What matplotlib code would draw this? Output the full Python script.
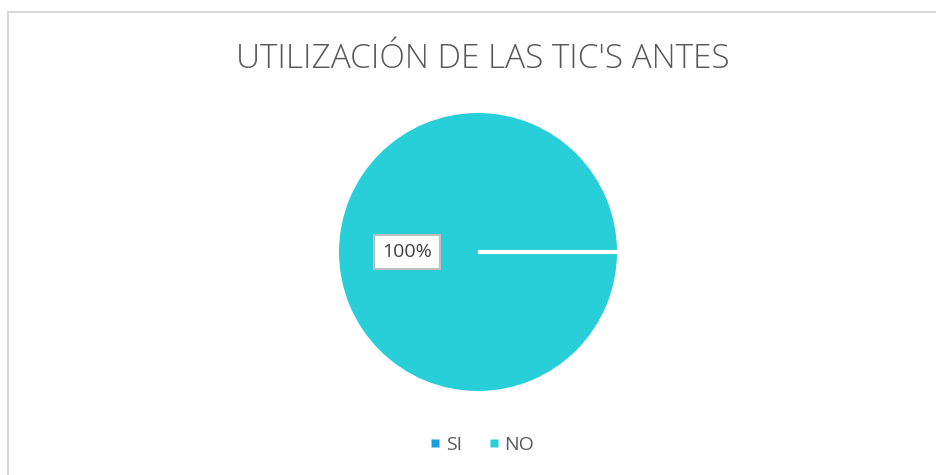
import matplotlib
matplotlib.use("Agg")
import matplotlib.pyplot as plt
from matplotlib.patches import Rectangle
from matplotlib.lines import Line2D

categories = ["SI", "NO"]
values = [0, 100]
colors = ["#1C9FE0", "#29CFD8"]
title = "UTILIZACIÓN DE LAS TIC'S ANTES"

W, H = 937, 475
fig = plt.figure(figsize=(W / 100, H / 100), dpi=100)
fig.patch.set_facecolor("white")

# outer border
fig.patches.append(Rectangle((8 / W, -0.05), 2, (H - 12) / H + 0.05, transform=fig.transFigure,
                             fill=False, edgecolor="#D9D9D9", linewidth=1.5))

cx, cy, r = 478, 252, 139
ax = fig.add_axes([(cx - r) / W, (H - cy - r) / H, 2 * r / W, 2 * r / H])
wedges, _ = ax.pie(values, colors=colors, startangle=0, counterclock=False,
                   wedgeprops=dict(edgecolor="white", linewidth=3))
wedges[1].set_linewidth(0)
wedges[0].set_zorder(5)
ax.set_xlim(-1, 1)
ax.set_ylim(-1, 1)
ax.set_aspect("equal")
ax.axis("off")

total = sum(values)
ax.text((407 - cx) / r, 0, f"{values[1] / total:.0%}", ha="center", va="center",
        fontsize=14, color="#404040", family="Open Sans", zorder=10,
        bbox=dict(boxstyle="square,pad=0.4", facecolor="white", edgecolor="#BFBFBF", linewidth=1.5))

fig.text(483 / W, 1 - 59 / H, title, ha="center", va="center", fontsize=24,
         color="#595959", family="Open Sans", fontweight="light")

handles = [Line2D([], [], linestyle="none", marker="s", markersize=5.2,
                  markerfacecolor=c, markeredgecolor="none") for c in colors]
fig.legend(handles, categories, loc="center", bbox_to_anchor=(483 / W, 1 - 445 / H),
           ncol=2, frameon=False, handlelength=0.36,
           handletextpad=0.36, columnspacing=1.45, borderpad=0, borderaxespad=0,
           prop=dict(family="Open Sans", size=14))
for t in fig.legends[0].get_texts():
    t.set_color("#595959")

fig.savefig("out.png", dpi=100, facecolor="white")
